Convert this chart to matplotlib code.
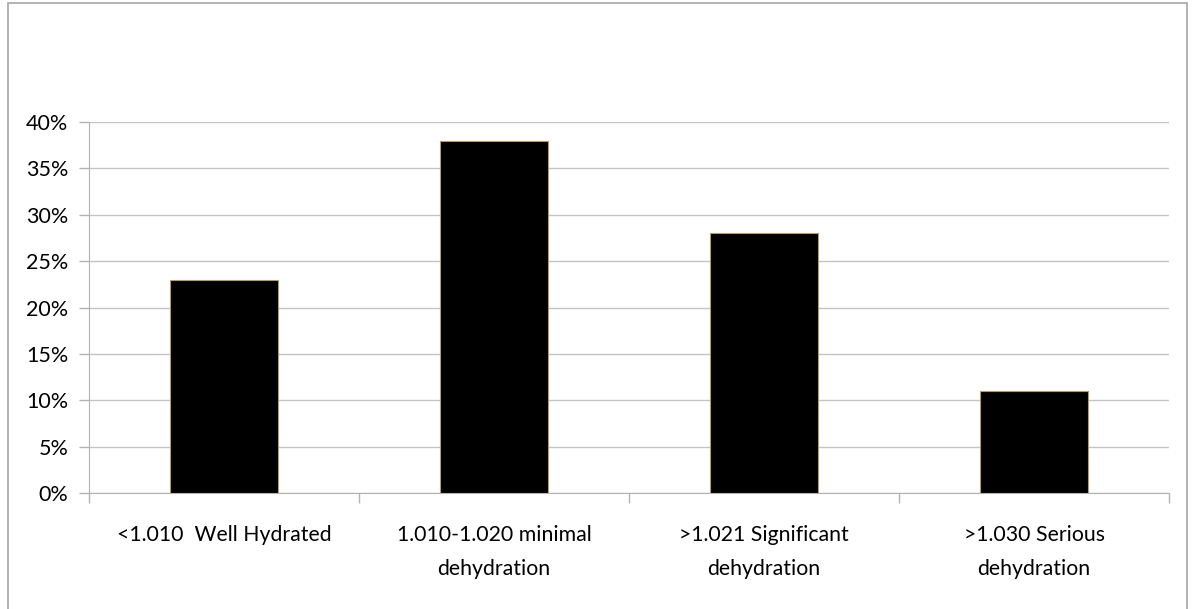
import numpy as np
import matplotlib.pyplot as plt
from matplotlib.patches import Rectangle
from matplotlib.ticker import FixedLocator, PercentFormatter

plt.rcParams['font.family'] = ['Lato', 'DejaVu Sans']

# urine specific gravity groups and share of samples
categories = ['<1.010  Well Hydrated', '1.010-1.020 minimal\ndehydration',
              '>1.021 Significant\ndehydration', '>1.030 Serious\ndehydration']
shares = [23, 38, 28, 11]
yticks = [0, 5, 10, 15, 20, 25, 30, 35, 40]

grey = '#b3b3b3'

fig = plt.figure(figsize=(11.94, 6.09), dpi=100)
ax = fig.add_axes([89 / 1194, 1 - 493 / 609, 1080 / 1194, 371 / 609])

x = np.arange(len(categories))
ax.bar(x, shares, width=0.4, color='black', edgecolor='#b49a66', linewidth=0.8, zorder=3)

ax.set_xlim(-0.5, len(categories) - 0.5)
ax.set_ylim(0, 40)
ax.set_yticks(yticks)
ax.yaxis.set_major_formatter(PercentFormatter(decimals=0))
ax.grid(axis='y', color='#c4c4c4', linewidth=1, zorder=0)

ax.set_xticks(x)
ax.set_xticklabels(categories, linespacing=1.85, va='top')
ax.xaxis.set_minor_locator(FixedLocator(np.arange(len(categories) + 1) - 0.5))
ax.tick_params(axis='x', which='major', length=0, pad=23, labelsize=15.3)
ax.tick_params(axis='x', which='minor', length=7, color=grey, width=1)
ax.tick_params(axis='y', length=7, color=grey, width=1, pad=8, labelsize=15.5)

for side in ['top', 'right']:
    ax.spines[side].set_visible(False)
ax.spines['left'].set_color(grey)
ax.spines['bottom'].set_color(grey)

# outer frame of the chart area
fig.patches.append(Rectangle((8 / 1194, -0.05), 1179 / 1194, 1.05 - 3 / 609,
                             transform=fig.transFigure, fill=False,
                             edgecolor='#a6a6a6', linewidth=1.2))

fig.savefig('out.png', dpi=100)
